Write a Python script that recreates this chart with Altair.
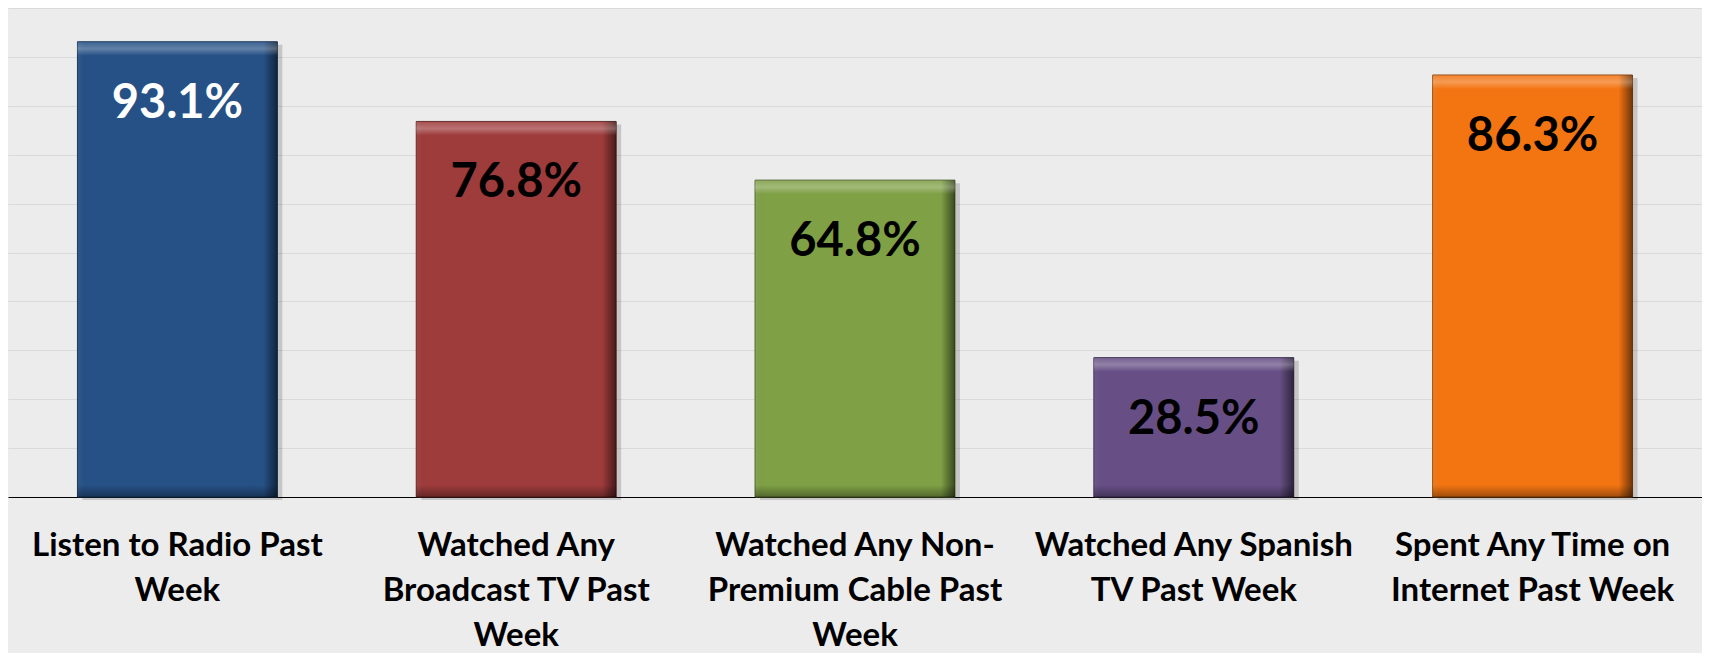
import altair as alt
import pandas as pd

categories = [
    "Listen to Radio Past|Week",
    "Watched Any|Broadcast TV Past|Week",
    "Watched Any Non-|Premium Cable Past|Week",
    "Watched Any Spanish|TV Past Week",
    "Spent Any Time on|Internet Past Week",
]
values = [93.1, 76.8, 64.8, 28.5, 86.3]
value_labels = ["93.1%", "76.8%", "64.8%", "28.5%", "86.3%"]

bar_colors = ["#265186", "#9E3B3B", "#7FA045", "#674F86", "#F37512"]
edge_colors = ["#173456", "#5E2222", "#4D6229", "#3E2F52", "#93470B"]
text_colors = ["#FFFFFF", "#000000", "#000000", "#000000", "#000000"]

df = pd.DataFrame({"cat": categories, "value": values, "label": value_labels})

FONT = "Lato"

x_enc = alt.X(
    "cat:N",
    sort=categories,
    scale=alt.Scale(paddingInner=0.41, paddingOuter=0.205),
    axis=alt.Axis(
        title=None,
        labelExpr="split(datum.label, '|')",
        labelAngle=0,
        labelFont=FONT,
        labelFontWeight="bold",
        labelFontSize=33,
        labelLineHeight=45,
        labelColor="#000000",
        labelPadding=32,
        labelBaseline="top",
        ticks=False,
        domain=True,
        domainColor="#000000",
        domainWidth=1.2,
        grid=False,
        labelLimit=400,
        labelOverlap=False,
    ),
)
y_scale = alt.Scale(domain=[0, 100], nice=False)
y_enc = alt.Y(
    "value:Q",
    scale=y_scale,
    axis=alt.Axis(
        title=None,
        values=list(range(0, 101, 10)),
        labels=False,
        ticks=False,
        domain=False,
        grid=True,
        gridColor="#DADADA",
        gridWidth=1,
    ),
)

base = alt.Chart(df)

shadow = base.mark_bar(color="#000000", opacity=0.16, xOffset=5, yOffset=3).encode(
    x=x_enc, y=y_enc
)

bars = base.mark_bar(strokeWidth=1).encode(
    x=x_enc,
    y=y_enc,
    color=alt.Color("cat:N", scale=alt.Scale(domain=categories, range=bar_colors), legend=None),
    stroke=alt.Stroke("cat:N", scale=alt.Scale(domain=categories, range=edge_colors), legend=None),
)

right_edge = base.mark_bar(
    color=alt.LinearGradient(
        gradient="linear",
        x1=0, x2=1, y1=0, y2=0,
        stops=[
            alt.GradientStop(offset=0, color="rgba(255,255,255,0.06)"),
            alt.GradientStop(offset=0.05, color="rgba(0,0,0,0)"),
            alt.GradientStop(offset=0.93, color="rgba(0,0,0,0)"),
            alt.GradientStop(offset=1, color="rgba(0,0,0,0.55)"),
        ],
    )
).encode(x=x_enc, y=y_enc)

top_bevel = base.mark_bar(
    color=alt.LinearGradient(
        gradient="linear",
        x1=0, x2=0, y1=0, y2=1,
        stops=[
            alt.GradientStop(offset=0, color="rgba(255,255,255,0.10)"),
            alt.GradientStop(offset=0.5, color="rgba(255,255,255,0.28)"),
            alt.GradientStop(offset=1, color="rgba(255,255,255,0.0)"),
        ],
    ),
    y2Offset=14,
).encode(x=x_enc, y=y_enc, y2=alt.Y2("value:Q"))

bottom_bevel = base.mark_bar(
    color=alt.LinearGradient(
        gradient="linear",
        x1=0, x2=0, y1=0, y2=1,
        stops=[
            alt.GradientStop(offset=0, color="rgba(0,0,0,0.0)"),
            alt.GradientStop(offset=1, color="rgba(0,0,0,0.35)"),
        ],
    ),
    yOffset=-12,
).encode(x=x_enc, y=alt.Y(datum=0, scale=y_scale), y2=alt.Y2(datum=0))

texts = base.mark_text(
    font=FONT, fontWeight="bold", fontSize=47, baseline="alphabetic", align="center", dy=76
).encode(
    x=x_enc,
    y=y_enc,
    text="label:N",
    fill=alt.Fill("cat:N", scale=alt.Scale(domain=categories, range=text_colors), legend=None),
)

chart = (
    alt.layer(shadow, bars, right_edge, top_bevel, bottom_bevel, texts)
    .resolve_scale(color="independent")
    .properties(
        width=1694,
        height=489,
        background="#ECECEC",
        padding={"left": 0, "top": 0, "right": 0, "bottom": 156},
        autosize=alt.AutoSizeParams(type="none"),
    )
    .configure_view(stroke=None)
)

chart.save("out.html", embed_options={"renderer": "svg", "actions": False})
